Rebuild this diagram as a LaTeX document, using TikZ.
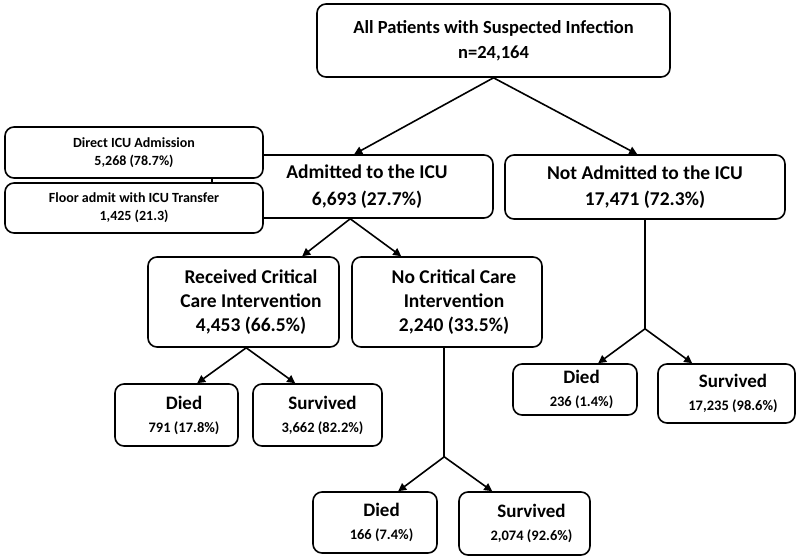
\documentclass[tikz,border=0pt]{standalone}
\usepackage{fontspec}
\setmainfont{Carlito}
\usetikzlibrary{arrows.meta,calc}
\tikzset{
  box/.style={draw=black, line width=1.6pt, rounded corners=9pt, fill=white,
    align=center, inner sep=2pt, font=\bfseries\fontsize{19.5}{24}\selectfont},
  topbox/.style={box, font=\bfseries\fontsize{18.5}{25}\selectfont},
  midbox/.style={box, font=\bfseries\fontsize{19.5}{26.5}\selectfont},
  sidebox/.style={box, font=\bfseries\fontsize{14}{18}\selectfont},
  leafbox/.style={box, font=\bfseries\fontsize{19}{23}\selectfont},
  conn/.style={line width=1.6pt, draw=black},
  arr/.style={conn, -{Triangle[length=8pt,width=8pt]}}
}
\newcommand{\sm}[1]{{\fontsize{14.5}{18}\selectfont #1}}
\newcommand{\hs}[1]{\hspace{#1pt}}
\begin{document}
\begin{tikzpicture}[x=1pt,y=-1pt]
\useasboundingbox (0,0) rectangle (800,559);
% boxes
\node[topbox, minimum width=353pt, minimum height=73pt] (top) at (493.5,40.5)
  {All Patients with Suspected Infection\\n=24,164};
\node[midbox, minimum width=281pt, minimum height=63pt] (adm) at (352.5,186.5)
  {\hs{29}Admitted to the ICU\\\hs{29}6,693 (27.7\%)};
\node[sidebox, minimum width=258pt, minimum height=51pt] (direct) at (134,152.5)
  {Direct ICU Admission\\5,268 (78.7\%)};
\node[sidebox, minimum width=258pt, minimum height=50pt] (floor) at (134,208)
  {Floor admit with ICU Transfer\\1,425 (21.3)};
\node[midbox, minimum width=280pt, minimum height=64pt] (notadm) at (645,187)
  {Not Admitted to the ICU\\17,471 (72.3\%)};
\node[box, minimum width=191pt, minimum height=90pt] (rec) at (243.5,302)
  {\hs{15}Received Critical\\\hs{15}Care Intervention\\\hs{15}4,453 (66.5\%)};
\node[box, minimum width=190pt, minimum height=90pt] (nocrit) at (447,302)
  {\hs{14}No Critical Care\\\hs{14}Intervention\\\hs{14}2,240 (33.5\%)};
\node[leafbox, minimum width=123pt, minimum height=62pt] (died1) at (176.5,415)
  {\hs{15}Died\\\hs{15}\sm{791 (17.8\%)}};
\node[leafbox, minimum width=129pt, minimum height=62pt] (surv1) at (317.5,415)
  {\hs{10}Survived\\\hs{10}\sm{3,662 (82.2\%)}};
\node[leafbox, minimum width=124pt, minimum height=51pt] (died2) at (575,389.5)
  {\hs{13}Died\\\hs{13}\sm{236 (1.4\%)}};
\node[leafbox, minimum width=137pt, minimum height=59pt] (surv2) at (726.5,393.5)
  {\hs{13}Survived\\\hs{13}\sm{17,235 (98.6\%)}};
\node[leafbox, minimum width=124pt, minimum height=61pt] (died3) at (375,522.5)
  {\hs{13}Died\\\hs{13}\sm{166 (7.4\%)}};
\node[leafbox, minimum width=131pt, minimum height=63pt] (surv3) at (524.5,523.5)
  {\hs{14}Survived\\\hs{14}\sm{2,074 (92.6\%)}};
% junction coordinates
\coordinate (admbr) at ($(adm.south west)+(139,0)$);
\coordinate (recbr) at ($(rec.south west)+(99,0)$);
\coordinate (ncbot) at ($(nocrit.south west)+(93,0)$);
\coordinate (j3) at ($(ncbot)+(0,109)$);
\coordinate (j2) at ($(notadm.south)+(0,109)$);
% connectors
\draw[arr] (top.south) -- ($(adm.north west)+(143,0)$);
\draw[arr] (top.south) -- ($(notadm.north west)+(133,0)$);
\draw[arr] (admbr) -- ($(rec.north west)+(155,0)$);
\draw[arr] (admbr) -- ($(nocrit.north west)+(50,0)$);
\draw[arr] (recbr) -- ($(died1.north west)+(83,0)$);
\draw[arr] (recbr) -- ($(surv1.north west)+(43,0)$);
\draw[conn] (ncbot) -- (j3);
\draw[arr] (j3) -- ($(died3.north west)+(86,0)$);
\draw[arr] (j3) -- ($(surv3.north west)+(34,0)$);
\draw[conn] (notadm.south) -- (j2);
\draw[arr] (j2) -- ($(died2.north west)+(86,0)$);
\draw[arr] (j2) -- ($(surv2.north west)+(35,0)$);
\end{tikzpicture}
\end{document}
